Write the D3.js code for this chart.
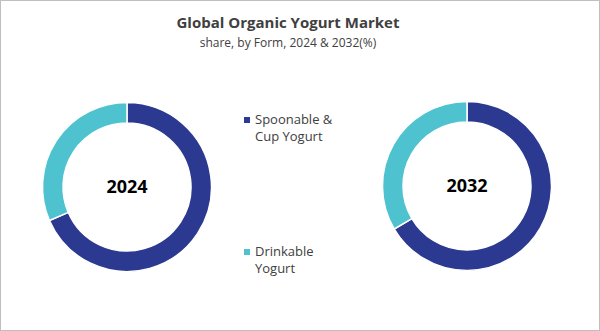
<!DOCTYPE html>
<html>
<head>
<meta charset="utf-8">
<script src="https://cdn.jsdelivr.net/npm/d3@7"></script>
<style>
  html, body { margin: 0; padding: 0; background: #fff; }
  svg { display: block; }
</style>
</head>
<body>
<svg id="chart" width="600" height="331"></svg>
<script>
// Market share by form (%)
const forms = ["Spoonable & Cup Yogurt", "Drinkable Yogurt"];
const legendLines = [["Spoonable &", "Cup Yogurt"], ["Drinkable", "Yogurt"]];
const years = ["2024", "2032"];
const share2024 = [68.5, 31.5];
const share2032 = [66.5, 33.5];
const colors = ["#2B3990", "#4EC3CF"];

const W = 600, H = 331;
const svg = d3.select("#chart");
const font = "'Open Sans', 'Noto Sans', sans-serif";

// frame
svg.append("rect")
  .attr("x", 0.5).attr("y", 0.5)
  .attr("width", W - 1).attr("height", H - 1)
  .attr("fill", "#fff").attr("stroke", "#BFBFBF");

// titles
svg.append("text")
  .attr("x", 288).attr("y", 28)
  .attr("text-anchor", "middle")
  .attr("font-family", font).attr("font-weight", 700)
  .attr("font-size", 15).attr("fill", "#404040")
  .text("Global Organic Yogurt Market");
svg.append("text")
  .attr("x", 288).attr("y", 47)
  .attr("text-anchor", "middle")
  .attr("font-family", font)
  .attr("font-size", 12).attr("fill", "#404040")
  .text("share, by Form, 2024 & 2032(%)");

const color = d3.scaleOrdinal().domain(forms).range(colors);
const pie = d3.pie().sort(null).value(d => d.value);
const arc = d3.arc().innerRadius(64).outerRadius(84.5);

const donuts = [
  { year: years[0], values: share2024, cx: 127, cy: 187 },
  { year: years[1], values: share2032, cx: 467, cy: 186 }
];

donuts.forEach(dn => {
  const g = svg.append("g").attr("transform", `translate(${dn.cx},${dn.cy})`);
  const data = forms.map((f, i) => ({ form: f, value: dn.values[i] }));
  g.selectAll("path")
    .data(pie(data))
    .join("path")
    .attr("d", arc)
    .attr("fill", d => color(d.data.form))
    .attr("stroke", "#fff")
    .attr("stroke-width", 1.5);
  g.append("text")
    .attr("text-anchor", "middle")
    .attr("dy", "0.35em")
    .attr("font-family", font).attr("font-weight", 700)
    .attr("font-size", 18).attr("fill", "#000")
    .text(dn.year);
});

// legend
const legendY = [117, 249];
forms.forEach((f, i) => {
  const g = svg.append("g").attr("transform", `translate(244,${legendY[i]})`);
  g.append("rect").attr("width", 6).attr("height", 6).attr("fill", color(f));
  legendLines[i].forEach((line, j) => {
    g.append("text")
      .attr("x", 11).attr("y", 7 + j * 17)
      .attr("font-family", font)
      .attr("font-size", 13).attr("fill", "#404040")
      .text(line);
  });
});
</script>
</body>
</html>
